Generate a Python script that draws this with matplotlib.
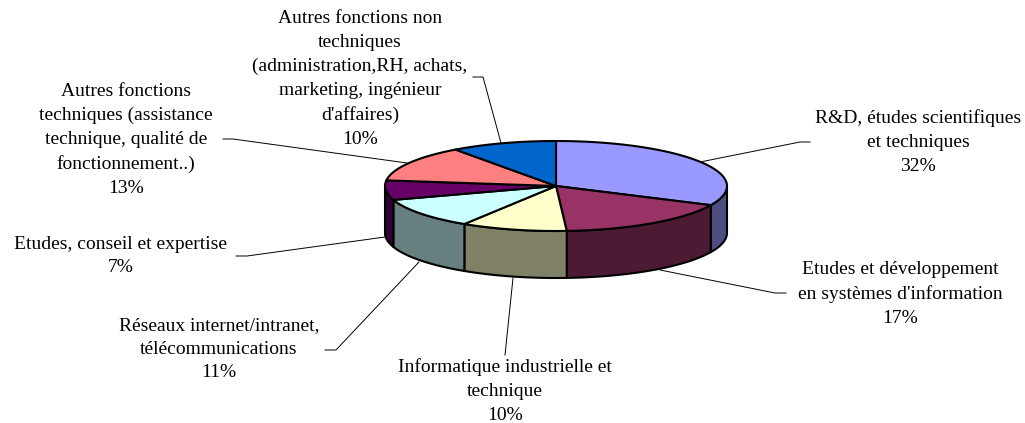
import numpy as np
import matplotlib
matplotlib.use("Agg")
import matplotlib.pyplot as plt

# values in percent, clockwise from the top of the pie
labels = [
    "R&D, études scientifiques\net techniques\n32%",
    "Etudes et développement\nen systèmes d'information\n17%",
    "Informatique industrielle et\ntechnique\n10%",
    "Réseaux internet/intranet,\ntélécommunications\n11%",
    "Etudes, conseil et expertise\n7%",
    "Autres fonctions\ntechniques (assistance\ntechnique, qualité de\nfonctionnement..)\n13%",
    "Autres fonctions non\ntechniques\n(administration,RH, achats,\nmarketing, ingénieur\nd'affaires)\n10%",
]
values = [32, 17, 10, 11, 7, 13, 10]
top_colors = ["#9999FF", "#993366", "#FFFFCC", "#CCFFFF", "#660066", "#FF8080", "#0066CC"]
side_colors = ["#4D4D80", "#4D1A33", "#808066", "#668080", "#330033", "#804040", "#003366"]

# label centre (x, y) and leader line, in pixels
label_pos = [(918, 142), (900, 294), (505, 391), (219, 349), (121, 256), (126, 140), (360, 79)]
leaders = [
    [(700, 162), (800, 142), (810, 142)],
    [(660, 270), (775, 293), (786, 293)],
    [(513, 278), (505, 355)],
    [(419, 262), (336, 350), (325, 350)],
    [(385, 237), (247, 256), (236, 256)],
    [(407, 163), (233, 139), (223, 139)],
    [(501, 143), (483, 77), (473, 77)],
]

cx, cy, rx, ry, depth = 556, 186, 171, 45, 47


def arc(a0, a1):
    t = np.radians(np.linspace(a0, a1, 80))
    return cx + rx * np.sin(t), cy - ry * np.cos(t)


fig = plt.figure(figsize=(10.25, 4.23), dpi=100)
ax = fig.add_axes([0, 0, 1, 1])
ax.set_xlim(0, 1025)
ax.set_ylim(423, 0)
ax.axis("off")

edges = np.cumsum([0] + values) * 3.6

# side wall, only the front half shows
for i in range(len(values)):
    a0 = max(edges[i], 90)
    a1 = min(edges[i + 1], 270)
    if a1 <= a0:
        continue
    x, y = arc(a0, a1)
    ax.fill(np.r_[x, x[::-1]], np.r_[y, y[::-1] + depth], facecolor=side_colors[i],
            edgecolor="black", lw=1.5, joinstyle="round", zorder=2)

# top of the pie
for i in range(len(values)):
    x, y = arc(edges[i], edges[i + 1])
    ax.fill(np.r_[cx, x], np.r_[cy, y], facecolor=top_colors[i],
            edgecolor="black", lw=1.5, joinstyle="round", zorder=3)

for pts in leaders:
    ax.plot([p[0] for p in pts], [p[1] for p in pts], color="black", lw=0.7, zorder=1)

for txt, (x, y) in zip(labels, label_pos):
    ax.text(x, y, txt, ha="center", va="center", fontsize=14, family="Liberation Serif",
            color="black", linespacing=1.53, zorder=4)

fig.savefig("out.png", dpi=100)
